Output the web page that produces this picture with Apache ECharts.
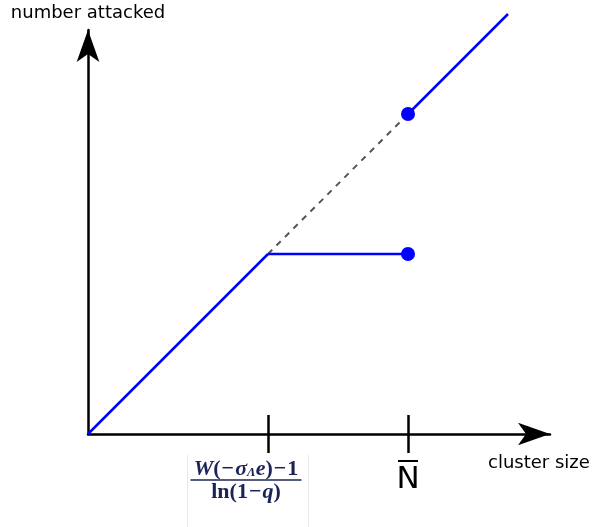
<!DOCTYPE html>
<html>
<head>
<meta charset="utf-8">
<script src="https://cdn.jsdelivr.net/npm/echarts@6/dist/echarts.min.js"></script>
<style>html,body{margin:0;padding:0;background:#fff}#c{width:593px;height:527px}</style>
</head>
<body>
<div id="c"></div>
<script>
// data
const xTickValues = [9, 16];
const lowerDiagonal = [[0, 0], [9, 9]];
const plateau = [[9, 9], [16, 9]];
const dashedDiagonal = [[9, 9], [16, 16]];
const upperDiagonal = [[16, 16], [21, 21]];
const endDots = [[16, 9], [16, 16]];
const xAxisTitle = 'cluster size';
const yAxisTitle = 'number attacked';

const navy = '#1c2457';
const serif = 'Liberation Serif';
const chart = echarts.init(document.getElementById('c'));

const fracRich = {
  n: {fontFamily: serif, fontStyle: 'italic', fontWeight: 'bold', fontSize: 22, color: navy, lineHeight: 20},
  p: {fontFamily: serif, fontWeight: 'bold', fontSize: 22, color: navy, lineHeight: 20},
  m: {fontFamily: serif, fontWeight: 'bold', fontSize: 22, color: navy, lineHeight: 20, padding: [0, 1, 0, 1]},
  s: {fontFamily: serif, fontStyle: 'italic', fontWeight: 'bold', fontSize: 13, color: navy, lineHeight: 20, verticalAlign: 'bottom', padding: [7, 0, 0, 0]},
  d: {fontFamily: serif, fontWeight: 'bold', fontSize: 22, color: navy, lineHeight: 22},
  dn: {fontFamily: serif, fontStyle: 'italic', fontWeight: 'bold', fontSize: 22, color: navy, lineHeight: 22},
  dm: {fontFamily: serif, fontWeight: 'bold', fontSize: 22, color: navy, lineHeight: 22, padding: [0, 1, 0, 1]},
  bar: {width: 111, height: 1.5, backgroundColor: navy, lineHeight: 2},
  gap: {width: 44, lineHeight: 2},
  gapt: {width: 44, lineHeight: 20},
  gapd: {width: 44, lineHeight: 22},
  ob: {width: 20, height: 2, backgroundColor: '#000', lineHeight: 4},
  N: {fontFamily: 'DejaVu Sans', fontSize: 31, color: '#000', lineHeight: 33}
};

function tickLines() {
  return xTickValues.map(v => ({coords: [[v, 0.95], [v, -0.95]]}));
}

chart.setOption({
  animation: false,
  grid: {left: 88, right: 43, top: 30, bottom: 93},
  xAxis: {
    type: 'value', min: 0, max: 23.1,
    splitLine: {show: false},
    axisTick: {show: false},
    axisLine: {onZero: true, symbol: ['none', 'arrow'], symbolSize: [17, 32], lineStyle: {color: '#000', width: 2.5}},
    name: xAxisTitle, nameLocation: 'end', nameGap: -62,
    nameTextStyle: {fontFamily: 'DejaVu Sans', fontSize: 18, color: '#000', align: 'left', verticalAlign: 'top', lineHeight: 58},
    axisLabel: {
      customValues: xTickValues,
      margin: 25,
      rich: fracRich,
      formatter: function (v) {
        if (v === xTickValues[0]) {
          return '{n|W}{p|(}{m|\u2212}{n|\u03c3}{s|\u039b}{n|e}{p|)}{m|\u2212}{p|1}{gapt| }\n{bar| }{gap| }\n{d|ln(1}{dm|\u2212}{dn|q}{d|)}{gapd| }';
        }
        return '{ob| }\n{N|N}';
      }
    }
  },
  yAxis: {
    type: 'value', min: 0, max: 20.2,
    splitLine: {show: false},
    axisTick: {show: false},
    axisLabel: {show: false},
    axisLine: {onZero: true, symbol: ['none', 'arrow'], symbolSize: [17, 32], lineStyle: {color: '#000', width: 2.5}},
    name: yAxisTitle, nameLocation: 'end', nameGap: 17,
    nameTextStyle: {fontFamily: 'DejaVu Sans', fontSize: 18, color: '#000', align: 'center', verticalAlign: 'middle'}
  },
  graphic: [
    {type: 'line', shape: {x1: 187.5, y1: 455, x2: 187.5, y2: 527}, style: {stroke: '#e8e8e8', lineWidth: 1}},
    {type: 'line', shape: {x1: 308.5, y1: 455, x2: 308.5, y2: 527}, style: {stroke: '#e8e8e8', lineWidth: 1}}
  ],
  series: [
    {type: 'lines', coordinateSystem: 'cartesian2d', clip: false, data: tickLines(), lineStyle: {color: '#000', width: 2.5, opacity: 1}, z: 3},
    {type: 'line', data: dashedDiagonal, clip: false, symbol: 'none', lineStyle: {color: '#555', width: 2, type: [6, 6]}},
    {type: 'line', data: lowerDiagonal, clip: false, symbol: 'none', lineStyle: {color: '#0000ff', width: 2.5}},
    {type: 'line', data: plateau, clip: false, symbol: 'none', lineStyle: {color: '#0000ff', width: 2.5}},
    {type: 'line', data: upperDiagonal, clip: false, symbol: 'none', lineStyle: {color: '#0000ff', width: 2.5}},
    {type: 'scatter', data: endDots, clip: false, symbolSize: 14, itemStyle: {color: '#0000ff', opacity: 1}, z: 5}
  ]
});
</script>
</body>
</html>
